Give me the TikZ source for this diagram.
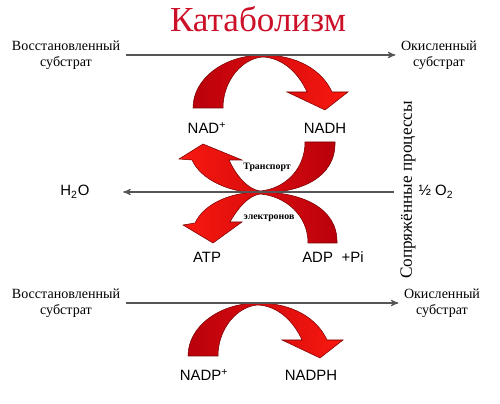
\documentclass[tikz,border=0pt]{standalone}
\usepackage{fontspec}
\setmainfont{Liberation Serif}
\newfontfamily\lsans{Liberation Sans}
\usetikzlibrary{arrows,positioning}
\definecolor{titlered}{RGB}{204,16,40}
\definecolor{bowdark}{RGB}{185,0,12}
\definecolor{bowlight}{RGB}{250,25,15}
\definecolor{bowedge}{RGB}{120,0,0}
\definecolor{flowgray}{RGB}{85,85,85}
\tikzset{
    subst/.style={
           align=center,
           font=\fontsize{8}{9}\selectfont,
           inner sep=3pt,
           },
    carrier/.style={
           font=\lsans\fontsize{8.5}{10}\selectfont,
           inner sep=1pt,
           },
    tag/.style={
           font=\bfseries\fontsize{5.6}{6.5}\selectfont,
           inner sep=1pt,
           },
    flow/.style={
           ->,
           draw=flowgray,
           line width=0.6pt,
           },
    bowfill/.style={
           draw=bowedge,
           line width=0.3pt,
           },
    bowarrow/.pic={
           \path[bowfill,left color=bowdark,right color=bowlight]
             (-70,53) .. controls (-70,23) and (-38,0) .. (0,0)
             .. controls (34,0) and (59,15) .. (69,37) -- (85,37) -- (62,55) -- (24,37) -- (44,37)
             .. controls (35,17) and (19,3) .. (0,2)
             .. controls (-20,3) and (-40,25) .. (-40,53) -- cycle;
           },
}

\begin{document}
\begin{tikzpicture}[x=0.02cm,y=-0.02cm,>=stealth']
\useasboundingbox (0,0) rectangle (500,404);

\node[font=\fontsize{20}{24}\selectfont,text=titlered,anchor=base](title) at (258,32){Катаболизм};

% catabolism: substrate oxidation
\node[subst](red1) at (66,55){Восстановленный\\субстрат};
\node[subst](ox1) at (439,55){Окисленный\\субстрат};
\coordinate (peak1) at (263,55);
\pic at (peak1) {bowarrow};
\node[carrier](nad) at (207,128){NAD\textsuperscript{+}};
\node[carrier](nadh) at (325,128){NADH};
\draw[flow] (red1) -- (ox1);

% electron transport crossing
\path[bowfill,left color=bowlight,right color=bowdark]
  (305,142) -- (335,142) .. controls (336,178) and (300,193) .. (260,193)
  .. controls (230,193) and (201,180) .. (192,160) -- (179,159) -- (203,144) -- (242,160) -- (229,160)
  .. controls (236,175) and (247,189) .. (260,191)
  .. controls (284,189) and (305,170) .. (305,142) -- cycle;
\path[bowfill,left color=bowlight,right color=bowdark]
  (308,243) -- (337,243) .. controls (338,207) and (300,192) .. (260,192)
  .. controls (230,192) and (204,204) .. (195,223) -- (183,225) -- (213,243) -- (242,222) -- (230,222)
  .. controls (238,208) and (248,196) .. (260,194)
  .. controls (285,196) and (308,215) .. (308,243) -- cycle;
\node[tag](transp) at (267,167){Транспорт};
\node[tag](electr) at (269,218){электронов};
\node[carrier](water) at (75,192){H\textsubscript{2}O};
\node[carrier](oxygen) at (436,192){½ O\textsubscript{2}};
\draw[flow,shorten <=13pt,shorten >=18pt] (oxygen.west) -- (water.east);
\node[carrier](atp) at (207,257){ATP};
\node[carrier](adp) at (333,257){ADP\hspace{5pt}+Pi};

\node[rotate=90,font=\fontsize{9.8}{12}\selectfont](couple) at (408,190){Сопряжённые процессы};

% anabolic side: NADP
\node[subst](red2) at (66,303){Восстановленный\\субстрат};
\node[subst](ox2) at (442,303){Окисленный\\субстрат};
\coordinate (peak2) at (258,303);
\pic at (peak2) {bowarrow};
\node[carrier](nadp) at (204,375){NADP\textsuperscript{+}};
\node[carrier](nadph) at (311,375){NADPH};
\draw[flow] (red2) -- (ox2);
\end{tikzpicture}
\end{document}
